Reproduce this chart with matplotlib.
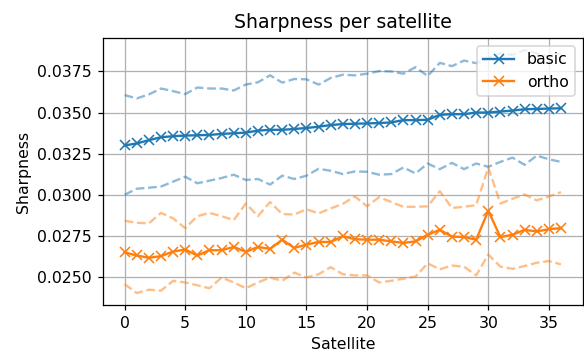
#!/usr/bin/env python3

import matplotlib
matplotlib.use("Agg")
import matplotlib.pyplot as plt

OUT_FILE = "out.png"
DPI = 113

satellites = list(range(37))

basic_mean = [
    0.03300, 0.03312, 0.03332, 0.03350, 0.03356, 0.03360, 0.03362, 0.03364,
    0.03370, 0.03374, 0.03378, 0.03390, 0.03395, 0.03395, 0.03400, 0.03406,
    0.03414, 0.03424, 0.03430, 0.03432, 0.03434, 0.03436, 0.03440, 0.03454,
    0.03454, 0.03456, 0.03486, 0.03490, 0.03490, 0.03500, 0.03500, 0.03506,
    0.03512, 0.03520, 0.03522, 0.03524, 0.03526,
]
basic_upper = [
    0.03606, 0.03586, 0.03610, 0.03646, 0.03630, 0.03612, 0.03652, 0.03646,
    0.03646, 0.03634, 0.03670, 0.03684, 0.03726, 0.03682, 0.03704, 0.03702,
    0.03670, 0.03710, 0.03730, 0.03726, 0.03736, 0.03752, 0.03750, 0.03736,
    0.03776, 0.03722, 0.03802, 0.03782, 0.03816, 0.03800, 0.03830, 0.03860,
    0.03850, 0.03880, 0.03860, 0.03840, 0.03860,
]
basic_lower = [
    0.03000, 0.03037, 0.03043, 0.03050, 0.03080, 0.03110, 0.03070, 0.03086,
    0.03102, 0.03122, 0.03090, 0.03096, 0.03062, 0.03116, 0.03096, 0.03116,
    0.03158, 0.03146, 0.03126, 0.03142, 0.03140, 0.03122, 0.03126, 0.03166,
    0.03130, 0.03190, 0.03156, 0.03194, 0.03156, 0.03190, 0.03170, 0.03200,
    0.03226, 0.03182, 0.03238, 0.03216, 0.03200,
]

ortho_mean = [
    0.02650, 0.02631, 0.02617, 0.02627, 0.02655, 0.02667, 0.02631, 0.02663,
    0.02663, 0.02683, 0.02653, 0.02683, 0.02671, 0.02727, 0.02677, 0.02697,
    0.02713, 0.02713, 0.02748, 0.02730, 0.02727, 0.02727, 0.02717, 0.02707,
    0.02717, 0.02757, 0.02787, 0.02746, 0.02743, 0.02727, 0.02903, 0.02743,
    0.02757, 0.02787, 0.02777, 0.02791, 0.02797,
]
ortho_upper = [
    0.02842, 0.02830, 0.02826, 0.02890, 0.02857, 0.02797, 0.02870, 0.02890,
    0.02870, 0.02846, 0.02947, 0.02870, 0.02956, 0.02883, 0.02880, 0.02912,
    0.02887, 0.02917, 0.02945, 0.02990, 0.02930, 0.02986, 0.02956, 0.02927,
    0.02927, 0.02930, 0.03022, 0.02920, 0.02927, 0.02937, 0.03166, 0.02947,
    0.02976, 0.03002, 0.02966, 0.02990, 0.03016,
]
ortho_lower = [
    0.02457, 0.02403, 0.02423, 0.02417, 0.02477, 0.02467, 0.02450, 0.02432,
    0.02497, 0.02467, 0.02432, 0.02467, 0.02497, 0.02477, 0.02527, 0.02497,
    0.02517, 0.02560, 0.02517, 0.02510, 0.02510, 0.02467, 0.02477, 0.02490,
    0.02503, 0.02583, 0.02547, 0.02570, 0.02563, 0.02510, 0.02637, 0.02563,
    0.02550, 0.02567, 0.02587, 0.02597, 0.02577,
]


def main():
    fig, ax = plt.subplots(figsize=(584 / DPI, 354 / DPI), dpi=DPI)
    fig.subplots_adjust(left=0.176, right=0.998, top=0.893, bottom=0.138)

    # mean lines with x markers, spread bands as faint dashed lines
    ax.plot(satellites, basic_mean, marker="x", color="C0", label="basic")
    ax.plot(satellites, basic_upper, "--", color="C0", alpha=0.5)
    ax.plot(satellites, basic_lower, "--", color="C0", alpha=0.5)

    ax.plot(satellites, ortho_mean, marker="x", color="C1", label="ortho")
    ax.plot(satellites, ortho_upper, "--", color="C1", alpha=0.5)
    ax.plot(satellites, ortho_lower, "--", color="C1", alpha=0.5)

    ax.set_xlabel("Satellite")
    ax.set_ylabel("Sharpness")
    ax.set_title("Sharpness per satellite")
    ax.grid(True)
    ax.legend(loc="upper right")

    fig.savefig(OUT_FILE, dpi=DPI)
    plt.close(fig)


if __name__ == "__main__":
    main()
